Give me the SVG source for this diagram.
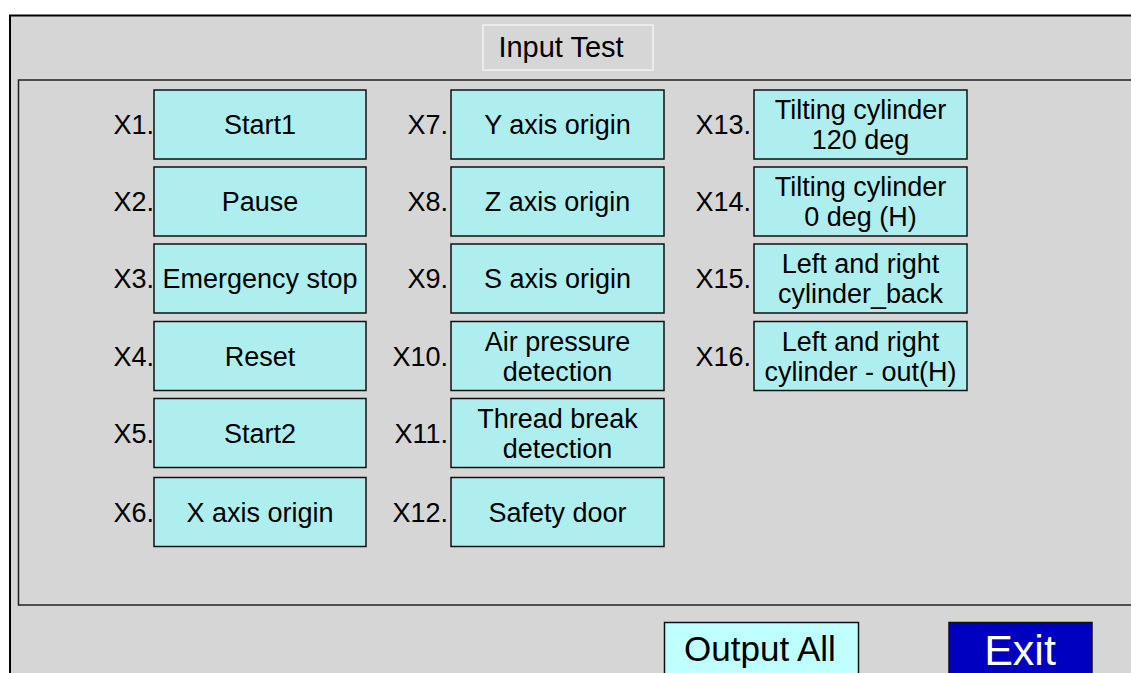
<svg xmlns="http://www.w3.org/2000/svg" width="1131" height="673" viewBox="0 0 1131 673">
<style>
text{font-family:"Liberation Sans",Arial,sans-serif;fill:#000}
.box{fill:#afeeee;stroke:#111;stroke-width:1.5}
.bt{font-size:27px;text-anchor:middle}
.lb{font-size:27px;text-anchor:end}
</style>
<rect x="0" y="0" width="1131" height="673" fill="#fff"/>
<rect id="frame" x="10" y="15.5" width="1140" height="680" fill="#d6d6d6" stroke="#000" stroke-width="2"/>
<g id="title"><rect x="483" y="25" width="170" height="45" fill="#d6d6d6" stroke="#f2f2f2" stroke-width="1.5"/><text x="561" y="57" font-size="29" text-anchor="middle">Input Test</text></g>
<rect id="panel" x="18.5" y="80" width="1130" height="525" fill="#d6d6d6" stroke="#222" stroke-width="1.5"/>

<g id="x1"><text class="lb" x="154" y="134">X1.</text><rect class="box" x="154" y="90" width="212" height="69"/><text class="bt" x="260" y="134">Start1</text></g>
<g id="x2"><text class="lb" x="154" y="211">X2.</text><rect class="box" x="154" y="167" width="212" height="69"/><text class="bt" x="260" y="211">Pause</text></g>
<g id="x3"><text class="lb" x="154" y="288">X3.</text><rect class="box" x="154" y="244" width="212" height="69"/><text class="bt" x="260" y="288">Emergency stop</text></g>
<g id="x4"><text class="lb" x="154" y="365.5">X4.</text><rect class="box" x="154" y="321.5" width="212" height="69"/><text class="bt" x="260" y="365.5">Reset</text></g>
<g id="x5"><text class="lb" x="154" y="442.5">X5.</text><rect class="box" x="154" y="398.5" width="212" height="69"/><text class="bt" x="260" y="442.5">Start2</text></g>
<g id="x6"><text class="lb" x="154" y="521.5">X6.</text><rect class="box" x="154" y="477.5" width="212" height="69"/><text class="bt" x="260" y="521.5">X axis origin</text></g>

<g id="x7"><text class="lb" x="448" y="134">X7.</text><rect class="box" x="451" y="90" width="213" height="69"/><text class="bt" x="557.5" y="134">Y axis origin</text></g>
<g id="x8"><text class="lb" x="448" y="211">X8.</text><rect class="box" x="451" y="167" width="213" height="69"/><text class="bt" x="557.5" y="211">Z axis origin</text></g>
<g id="x9"><text class="lb" x="448" y="288">X9.</text><rect class="box" x="451" y="244" width="213" height="69"/><text class="bt" x="557.5" y="288">S axis origin</text></g>
<g id="x10"><text class="lb" x="448" y="365.5">X10.</text><rect class="box" x="451" y="321.5" width="213" height="69"/><text class="bt" x="557.5" y="350.5">Air pressure</text><text class="bt" x="557.5" y="380.5">detection</text></g>
<g id="x11"><text class="lb" x="448" y="442.5">X11.</text><rect class="box" x="451" y="398.5" width="213" height="69"/><text class="bt" x="557.5" y="427.5">Thread break</text><text class="bt" x="557.5" y="457.5">detection</text></g>
<g id="x12"><text class="lb" x="448" y="521.5">X12.</text><rect class="box" x="451" y="477.5" width="213" height="69"/><text class="bt" x="557.5" y="521.5">Safety door</text></g>

<g id="x13"><text class="lb" x="751" y="134">X13.</text><rect class="box" x="754" y="90" width="213" height="69"/><text class="bt" x="860.5" y="119">Tilting cylinder</text><text class="bt" x="860.5" y="149">120 deg</text></g>
<g id="x14"><text class="lb" x="751" y="211">X14.</text><rect class="box" x="754" y="167" width="213" height="69"/><text class="bt" x="860.5" y="196">Tilting cylinder</text><text class="bt" x="860.5" y="226">0 deg (H)</text></g>
<g id="x15"><text class="lb" x="751" y="288">X15.</text><rect class="box" x="754" y="244" width="213" height="69"/><text class="bt" x="860.5" y="273">Left and right</text><text class="bt" x="860.5" y="303">cylinder_back</text></g>
<g id="x16"><text class="lb" x="751" y="365.5">X16.</text><rect class="box" x="754" y="321.5" width="213" height="69"/><text class="bt" x="860.5" y="350.5">Left and right</text><text class="bt" x="860.5" y="380.5">cylinder - out(H)</text></g>

<g id="output-all"><rect x="664.5" y="622.5" width="194" height="70" fill="#bfffff" stroke="#111" stroke-width="1.5"/><text x="760" y="661" font-size="35" text-anchor="middle">Output All</text></g>
<g id="exit"><rect x="949" y="622.5" width="143" height="70" fill="#0000c0" stroke="#111" stroke-width="1.5"/><text x="1020" y="665" font-size="43" text-anchor="middle" style="fill:#fff">Exit</text></g>
<g id="connectors"/>
</svg>
